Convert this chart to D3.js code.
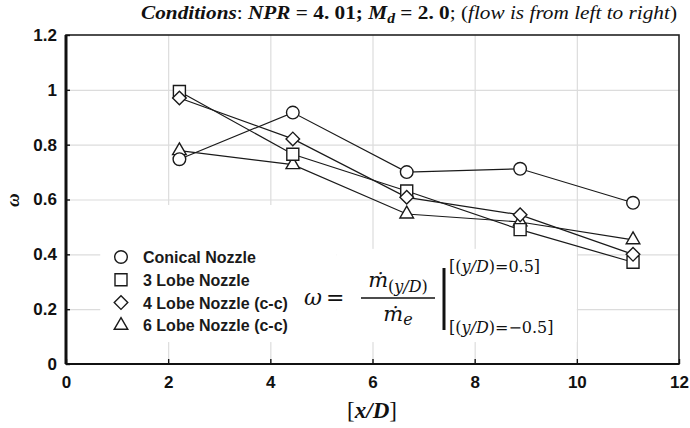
<!DOCTYPE html>
<html>
<head>
<meta charset="utf-8">
<script src="https://cdn.jsdelivr.net/npm/d3@7"></script>
<style>
  body { margin: 0; background: #fff; }
  svg { display: block; }
</style>
</head>
<body>
<svg></svg>
<script>
// values
var xPos = [2.22, 4.44, 6.67, 8.89, 11.1]
var conical = [0.747, 0.917, 0.700, 0.712, 0.588]
var lobe3 = [0.994, 0.765, 0.631, 0.490, 0.371]
var lobe4 = [0.970, 0.821, 0.608, 0.544, 0.400]
var lobe6 = [0.778, 0.727, 0.547, 0.518, 0.453]
var seriesNames = ["Conical Nozzle", "3 Lobe Nozzle", "4 Lobe Nozzle (c-c)", "6 Lobe Nozzle (c-c)"]
var xTicks = [0, 2, 4, 6, 8, 10, 12]
var yTicks = [0, 0.2, 0.4, 0.6, 0.8, 1, 1.2]

var W = 690, H = 428
var margin = {top: 35, right: 11, bottom: 64, left: 66}
var gw = W - margin.left - margin.right
var gh = H - margin.top - margin.bottom

var svg = d3.select("svg")
    .attr("width", W)
    .attr("height", H)

var g = svg.append("g")
    .attr("transform", `translate(${margin.left}, ${margin.top})`)

var scX = d3.scaleLinear().domain([0, 12]).range([0, gw])
var scY = d3.scaleLinear().domain([0, 1.2]).range([gh, 0])

// grid
g.append("g")
    .attr("transform", `translate(0, ${gh})`)
    .call(d3.axisBottom(scX).tickValues(xTicks.slice(1, -1)).tickSize(-gh).tickFormat(""))
    .call(a => a.select(".domain").remove())
    .selectAll("line").attr("stroke", "#dcdcdc").attr("stroke-width", 1.2)
g.append("g")
    .call(d3.axisLeft(scY).tickValues(yTicks.slice(1, -1)).tickSize(-gw).tickFormat(""))
    .call(a => a.select(".domain").remove())
    .selectAll("line").attr("stroke", "#dcdcdc").attr("stroke-width", 1.2)

// white boxes behind legend and formula
g.append("rect").attr("x", scX(0.67)).attr("y", scY(0.58)).attr("width", scX(5.3) - scX(0.67)).attr("height", scY(0.08) - scY(0.58)).attr("fill", "#fff")
g.append("rect").attr("x", scX(5.3)).attr("y", scY(0.42)).attr("width", scX(10) - scX(5.3)).attr("height", scY(0.08) - scY(0.42)).attr("fill", "#fff")

// frame
g.append("rect").attr("width", gw).attr("height", gh)
    .attr("fill", "none").attr("stroke", "#222").attr("stroke-width", 1.6)
g.append("line").attr("x1", 0).attr("x2", 0).attr("y1", 0).attr("y2", gh)
    .attr("stroke", "#111").attr("stroke-width", 3)
g.append("line").attr("x1", 0).attr("x2", gw).attr("y1", gh).attr("y2", gh)
    .attr("stroke", "#111").attr("stroke-width", 2.2)

// axes (ticks point inward)
var xAxis = g.append("g").attr("transform", `translate(0, ${gh})`)
    .call(d3.axisBottom(scX).tickValues(xTicks).tickSizeInner(-5).tickSizeOuter(0).tickPadding(10).tickFormat(d3.format("d")))
var yAxis = g.append("g")
    .call(d3.axisLeft(scY).tickValues(yTicks).tickSizeInner(-4).tickSizeOuter(0).tickPadding(9).tickFormat(d => d === 0 || d === 1 ? d : d.toFixed(1)))
;[xAxis, yAxis].forEach(a => {
    a.select(".domain").remove()
    a.selectAll("line").attr("stroke", "#111").attr("stroke-width", 1.4)
    a.selectAll("text")
        .attr("fill", "#111")
        .style("font-family", "'Liberation Sans', Arial, sans-serif")
        .style("font-weight", "bold")
        .style("font-size", "17px")
})
xAxis.selectAll("text").attr("dy", "0.85em")

// series
var series = [
    {name: seriesNames[0], vals: conical, sym: d3.symbolCircle, size: 125, rot: 0},
    {name: seriesNames[1], vals: lobe3, sym: d3.symbolSquare, size: 144, rot: 0},
    {name: seriesNames[2], vals: lobe4, sym: d3.symbolSquare, size: 92, rot: 45},
    {name: seriesNames[3], vals: lobe6, sym: d3.symbolTriangle, size: 80, rot: 0}
]

var line = d3.line().x((d, i) => scX(xPos[i])).y(d => scY(d))

g.selectAll(".series-line").data(series).enter().append("path")
    .attr("class", "series-line")
    .attr("d", s => line(s.vals))
    .attr("fill", "none")
    .attr("stroke", "#1a1a1a")
    .attr("stroke-width", 1.2)

var drawOrder = [series[3], series[1], series[2], series[0]]
drawOrder.forEach(s => {
    g.selectAll(null).data(s.vals).enter().append("path")
        .attr("d", d3.symbol(s.sym, s.size))
        .attr("transform", (d, i) => `translate(${scX(xPos[i])}, ${scY(d)}) rotate(${s.rot})`)
        .attr("fill", "#fff")
        .attr("stroke", "#1a1a1a")
        .attr("stroke-width", 1.4)
})

// legend
var legend = svg.append("g").attr("transform", "translate(121, 257)")
series.forEach((s, i) => {
    var row = legend.append("g").attr("transform", `translate(0, ${i * 22.8})`)
    row.append("path")
        .attr("d", d3.symbol(s.sym, s.size))
        .attr("transform", `rotate(${s.rot})`)
        .attr("fill", "#fff").attr("stroke", "#1a1a1a").attr("stroke-width", 1.4)
    row.append("text")
        .attr("x", 22).attr("y", 6)
        .style("font-family", "'Liberation Sans Narrow', 'Liberation Sans', Arial, sans-serif")
        .style("font-weight", "bold")
        .style("font-size", "16px")
        .attr("fill", "#1a1a1a")
        .text(s.name)
})

// formula
var mathFont = "'DejaVu Serif', 'Liberation Serif', serif"
var f = svg.append("g").style("font-family", mathFont).attr("fill", "#111")
f.append("text").attr("x", 304).attr("y", 305).style("font-size", "22px").style("font-style", "italic").text("ω")
f.append("text").attr("x", 326).attr("y", 305).style("font-size", "22px").text("=")
var num = f.append("text").attr("x", 398).attr("y", 287).attr("text-anchor", "middle").style("font-size", "21px")
num.append("tspan").style("font-style", "italic").text("ṁ")
num.append("tspan").attr("dy", 5).style("font-size", "16px").text("(")
num.append("tspan").style("font-size", "16px").style("font-style", "italic").text("y/D")
num.append("tspan").style("font-size", "16px").text(")")
f.append("line").attr("x1", 361).attr("x2", 435).attr("y1", 298).attr("y2", 298).attr("stroke", "#111").attr("stroke-width", 1.6)
var den = f.append("text").attr("x", 398).attr("y", 321).attr("text-anchor", "middle").style("font-size", "21px")
den.append("tspan").style("font-style", "italic").text("ṁ")
den.append("tspan").attr("dy", 4).style("font-size", "16px").style("font-style", "italic").text("e")
f.append("line").attr("x1", 444).attr("x2", 444).attr("y1", 268).attr("y2", 330).attr("stroke", "#111").attr("stroke-width", 3)
var up = f.append("text").attr("x", 449).attr("y", 272).style("font-size", "16px")
up.append("tspan").text("[(")
up.append("tspan").style("font-style", "italic").text("y/D")
up.append("tspan").text(")=0.5]")
var lo = f.append("text").attr("x", 449).attr("y", 333).style("font-size", "16px")
lo.append("tspan").text("[(")
lo.append("tspan").style("font-style", "italic").text("y/D")
lo.append("tspan").text(")=−0.5]")

// title
var serif = "'Liberation Serif', 'DejaVu Serif', serif"
var title = svg.append("text").attr("x", 409).attr("y", 19).attr("text-anchor", "middle")
    .attr("textLength", 536).attr("lengthAdjust", "spacingAndGlyphs")
    .style("font-family", serif).style("font-size", "19px").attr("fill", "#111")
title.append("tspan").style("font-weight", "bold").style("font-style", "italic").text("Conditions")
title.append("tspan").text(": ")
title.append("tspan").style("font-weight", "bold").style("font-style", "italic").text("NPR")
title.append("tspan").style("font-weight", "bold").text(" = 4. 01;  ")
title.append("tspan").style("font-weight", "bold").style("font-style", "italic").text("M")
title.append("tspan").attr("dy", 4).style("font-size", "14px").style("font-weight", "bold").style("font-style", "italic").text("d")
title.append("tspan").attr("dy", -4).style("font-weight", "bold").text(" = 2. 0")
title.append("tspan").text("; (")
title.append("tspan").style("font-style", "italic").text("flow is from left to right")
title.append("tspan").text(")")

// axis titles
var xt = svg.append("text").attr("x", 372).attr("y", 418).attr("text-anchor", "middle")
    .style("font-family", serif).style("font-size", "23px").attr("fill", "#111")
xt.append("tspan").text("[")
xt.append("tspan").style("font-weight", "bold").style("font-style", "italic").text("x/D")
xt.append("tspan").text("]")

svg.append("text")
    .attr("transform", "translate(19, 200) rotate(-90)")
    .attr("text-anchor", "middle")
    .style("font-family", serif).style("font-size", "19px")
    .style("font-weight", "bold").style("font-style", "italic")
    .attr("fill", "#111")
    .text("ω")
</script>
</body>
</html>
